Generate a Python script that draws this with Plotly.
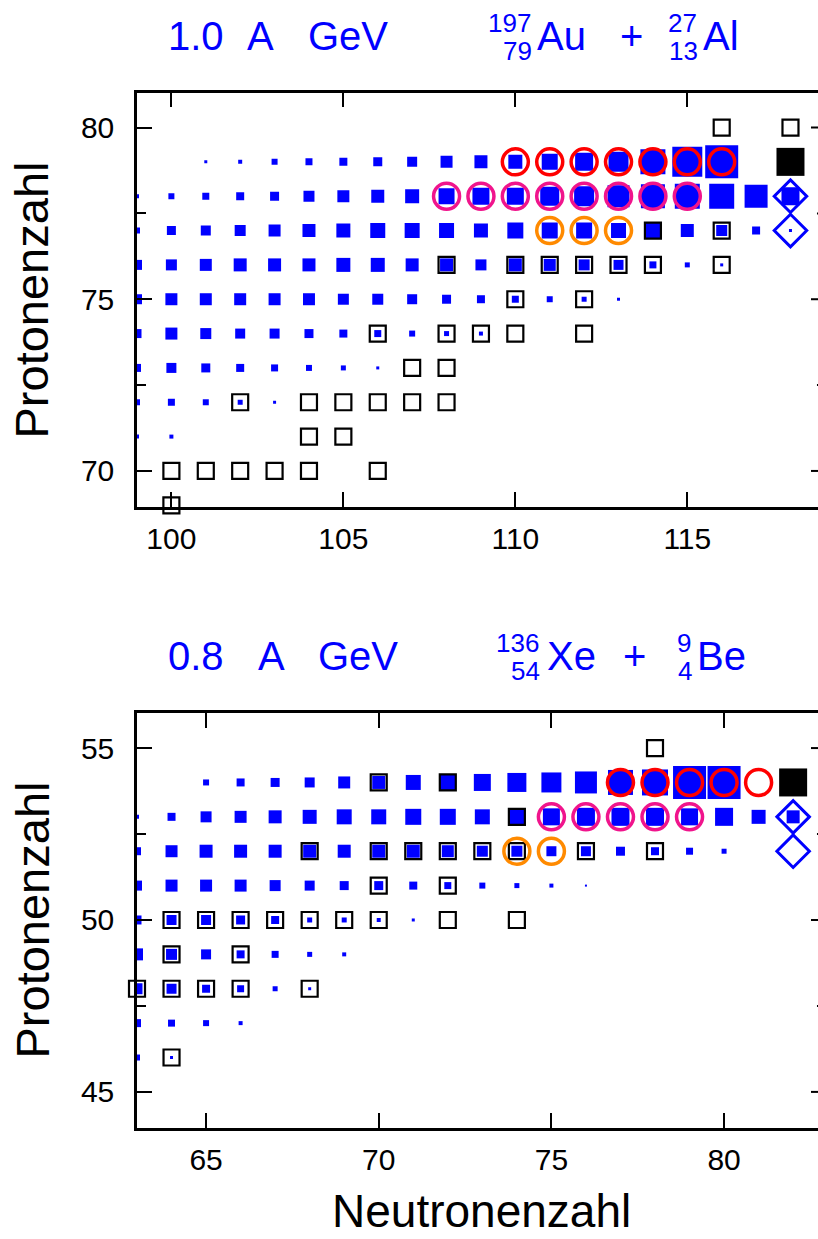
import plotly.graph_objects as go

# ---------------- 197Au + 27Al, 1.0 A GeV ----------------
# blue squares: yield index per nuclide, one list per proton row, starting at AU_ROW_N0
AU_ROW_Z = [79, 78, 77, 76, 75, 74, 73, 72, 71]
AU_ROW_N0 = [101, 99, 99, 99, 99, 99, 99, 99, 99]
AU_ROW_YIELD = [
    [3, 4, 6, 7, 8, 9, 10, 12, 13, 14, 16, 18, 20, 25, 30, 33],
    [4, 6, 7, 8, 9, 11, 12, 13, 14, 16, 17, 17, 19, 20, 22, 24, 25, 25, 23, 18],
    [6, 9, 10, 11, 12, 13, 14, 15, 15, 15, 14, 16, 16, 16, 15, 15, 13, 11, 8, 3],
    [10, 11, 12, 13, 13, 13, 14, 14, 13, 13, 11, 13, 12, 11, 10, 7, 5, 3],
    [10, 12, 12, 12, 12, 12, 11, 11, 10, 9, 8, 7, 6, 5, 3],
    [9, 12, 11, 10, 10, 9, 8, 7, 6, 5, 4],
    [8, 10, 9, 8, 7, 6, 5, 3],
    [6, 7, 6, 5, 3],
    [4, 4],
]
# open black squares
AU_BOX_N = [116, 118, 114, 116, 108, 110, 111, 112, 113, 114, 116, 110, 112,
            106, 108, 109, 110, 112, 107, 108, 102, 104, 105, 106, 107, 108,
            104, 105, 100, 101, 102, 103, 104, 106, 100]
AU_BOX_Z = [80, 80, 77, 77, 76, 76, 76, 76, 76, 76, 76, 75, 75,
            74, 74, 74, 74, 74, 73, 73, 72, 72, 72, 72, 72, 72,
            71, 71, 70, 70, 70, 70, 70, 70, 69]
# circled nuclides
AU_RED_N = [110, 111, 112, 113, 114, 115, 116]
AU_RED_Z = [79] * 7
AU_MAG_N = [108, 109, 110, 111, 112, 113, 114, 115]
AU_MAG_Z = [78] * 8
AU_ORA_N = [111, 112, 113]
AU_ORA_Z = [77] * 3
AU_PROJ_N, AU_PROJ_Z = [118], [79]
AU_DIA_N, AU_DIA_Z = [118, 118], [78, 77]

# ---------------- 136Xe + 9Be, 0.8 A GeV ----------------
XE_ROW_Z = [54, 53, 52, 51, 50, 49, 48, 47, 46]
XE_ROW_N0 = [65, 63, 63, 63, 63, 63, 63, 63, 63]
XE_ROW_YIELD = [
    [6, 8, 9, 10, 12, 13, 15, 16, 17, 19, 20, 22, 25, 26, 33, 33],
    [4, 8, 11, 12, 13, 14, 15, 15, 16, 16, 15, 16, 17, 18, 18, 18, 17, 18, 14, 13],
    [8, 12, 13, 13, 13, 13, 13, 13, 13, 12, 11, 11, 10, 10, 9, 8, 7, 5],
    [10, 12, 12, 12, 11, 10, 9, 9, 8, 7, 6, 5, 4, 2],
    [9, 10, 10, 9, 8, 5, 5, 4, 3],
    [12, 11, 10, 8, 7, 5, 4],
    [11, 10, 8, 7, 5, 3],
    [8, 7, 6, 4],
    [6, 3],
]
XE_BOX_N = [78, 70, 72, 74, 68, 70, 71, 72, 73, 74, 76, 78, 70, 72,
            64, 65, 66, 67, 68, 69, 70, 72, 74, 64, 66, 63, 64, 65, 66, 68, 64]
XE_BOX_Z = [55, 54, 54, 53, 52, 52, 52, 52, 52, 52, 52, 52, 51, 51,
            50, 50, 50, 50, 50, 50, 50, 50, 50, 49, 49, 48, 48, 48, 48, 48, 46]
XE_RED_N = [77, 78, 79, 80, 81]
XE_RED_Z = [54] * 5
XE_MAG_N = [75, 76, 77, 78, 79]
XE_MAG_Z = [53] * 5
XE_ORA_N = [74, 75]
XE_ORA_Z = [52] * 2
XE_PROJ_N, XE_PROJ_Z = [82], [54]
XE_DIA_N, XE_DIA_Z = [82, 82], [53, 52]

BLUE = "#0000FF"
RED = "#FF0000"
MAGENTA = "#F0148C"
ORANGE = "#FF8A00"
PX_PER_YIELD = 1.0

W, H = 818, 1239
L_MARGIN = 137
TOP_DOM = [1 - 507 / H, 1 - 92.5 / H]
BOT_DOM = [1 - 1128 / H, 1 - 713 / H]


def expand(rows_z, rows_n0, rows_w):
    ns, zs, ws = [], [], []
    for z, n0, w in zip(rows_z, rows_n0, rows_w):
        for i, v in enumerate(w):
            ns.append(n0 + i)
            zs.append(z)
            ws.append(v * PX_PER_YIELD)
    return ns, zs, ws


fig = go.Figure()


def add_panel(xa, ya, rows, box, red, mag, ora, proj, dia):
    n, z, w = expand(*rows)
    fig.add_trace(go.Scatter(
        x=n, y=z, mode="markers", xaxis=xa, yaxis=ya, cliponaxis=True,
        marker=dict(symbol="square", size=w, color=BLUE, opacity=1,
                    line=dict(width=0))))
    fig.add_trace(go.Scatter(
        x=box[0], y=box[1], mode="markers", xaxis=xa, yaxis=ya, cliponaxis=False,
        marker=dict(symbol="square", size=16, color="rgba(0,0,0,0)", opacity=1,
                    line=dict(width=2.2, color="black"))))
    for (cn, cz), col in ((red, RED), (mag, MAGENTA), (ora, ORANGE)):
        fig.add_trace(go.Scatter(
            x=cn, y=cz, mode="markers", xaxis=xa, yaxis=ya, cliponaxis=False,
            marker=dict(symbol="circle", size=26, color="rgba(0,0,0,0)", opacity=1,
                        line=dict(width=3.5, color=col))))
    fig.add_trace(go.Scatter(
        x=proj[0], y=proj[1], mode="markers", xaxis=xa, yaxis=ya, cliponaxis=False,
        marker=dict(symbol="square", size=28, color="black", opacity=1,
                    line=dict(width=0))))
    fig.add_trace(go.Scatter(
        x=dia[0], y=dia[1], mode="markers", xaxis=xa, yaxis=ya, cliponaxis=False,
        marker=dict(symbol="diamond", size=25, color="rgba(0,0,0,0)", opacity=1,
                    line=dict(width=3, color=BLUE))))


add_panel("x", "y", (AU_ROW_Z, AU_ROW_N0, AU_ROW_YIELD), (AU_BOX_N, AU_BOX_Z),
          (AU_RED_N, AU_RED_Z), (AU_MAG_N, AU_MAG_Z), (AU_ORA_N, AU_ORA_Z),
          (AU_PROJ_N, AU_PROJ_Z), (AU_DIA_N, AU_DIA_Z))
add_panel("x2", "y2", (XE_ROW_Z, XE_ROW_N0, XE_ROW_YIELD), (XE_BOX_N, XE_BOX_Z),
          (XE_RED_N, XE_RED_Z), (XE_MAG_N, XE_MAG_Z), (XE_ORA_N, XE_ORA_Z),
          (XE_PROJ_N, XE_PROJ_Z), (XE_DIA_N, XE_DIA_Z))

TICK_FONT = dict(family="Liberation Sans, Arial, sans-serif", size=30, color="black")
common_x = dict(showline=True, linewidth=2.5, linecolor="black", mirror="ticks",
                ticks="inside", ticklen=15, tickwidth=2, tickcolor="black",
                showgrid=False, zeroline=False, tickfont=TICK_FONT,
                ticklabelstandoff=3)
common_y = dict(showline=True, linewidth=2.5, linecolor="black", mirror=False,
                ticks="inside", ticklen=15, tickwidth=2, tickcolor="black",
                showgrid=False, zeroline=False, tickfont=TICK_FONT,
                ticklabelstandoff=14)

fig.update_layout(
    width=W, height=H, margin=dict(l=L_MARGIN, r=0, t=0, b=0),
    paper_bgcolor="white", plot_bgcolor="white", showlegend=False,
    xaxis=dict(common_x, domain=[0, 1], range=[99.0, 118.80], anchor="y",
               tickvals=[100, 105, 110, 115]),
    yaxis=dict(common_y, domain=TOP_DOM, range=[68.95, 81.02], anchor="x",
               tickvals=[70, 75, 80],
               minor=dict(tickvals=[72.5, 77.5], ticks="inside", ticklen=9,
                          tickwidth=2, tickcolor="black")),
    xaxis2=dict(common_x, domain=[0, 1], range=[63.0, 82.72], anchor="y2",
                tickvals=[65, 70, 75, 80]),
    yaxis2=dict(common_y, domain=BOT_DOM, range=[43.95, 56.02], anchor="x2",
                tickvals=[45, 50, 55],
                minor=dict(tickvals=[47.5, 52.5], ticks="inside", ticklen=9,
                           tickwidth=2, tickcolor="black")),
)

# tick marks on the right-hand frame edge
shapes = []
for yref, major, minor in (("y", [70, 75, 80], [72.5, 77.5]),
                           ("y2", [45, 50, 55], [47.5, 52.5])):
    for v in major:
        shapes.append(dict(type="line", xref="paper", yref=yref, x0=0.9897, x1=1.0,
                           y0=v, y1=v, line=dict(color="black", width=2)))
    for v in minor:
        shapes.append(dict(type="line", xref="paper", yref=yref, x0=0.9985, x1=1.0,
                           y0=v, y1=v, line=dict(color="black", width=2)))
fig.update_layout(shapes=shapes)


def px(xp):
    return (xp - L_MARGIN) / (W - L_MARGIN)


def py(yp):
    return 1 - yp / H


TITLE_FONT = "Liberation Sans, Arial, sans-serif"
ann = []


def text(s, x, y, size, anchor="left", color=BLUE, family=TITLE_FONT, angle=0):
    ann.append(dict(text=s, x=px(x), y=py(y), xref="paper", yref="paper",
                    xanchor=anchor, yanchor="middle", showarrow=False,
                    textangle=angle, borderpad=0,
                    font=dict(family=family, size=size, color=color)))


# panel headers: energy, then projectile + target with mass/charge prescripts
HEADERS = [
    (("1.0", "A", "GeV"), ("197", "79", "Au"), ("27", "13", "Al"), 36,
     (167, 246, 307), (532, 536), 631, (698, 702)),
    (("0.8", "A", "GeV"), ("136", "54", "Xe"), ("9", "4", "Be"), 656,
     (167, 257, 317), (540, 546), 634, (692, 696)),
]
for energy, proj, targ, cy, ex, pxs, xplus, txs in HEADERS:
    for s, x in zip(energy, ex):
        text(s, x, cy, 40)
    for (sup, sub, el), (xr, xe) in ((proj, pxs), (targ, txs)):
        text(sup, xr, cy - 13, 26, anchor="right")
        text(sub, xr + 1, cy + 15, 26, anchor="right")
        text(el, xe, cy, 40)
    text("+", xplus, cy, 40, anchor="center")

AX_FONT = "Liberation Sans, Arial, sans-serif"
text("Protonenzahl", 31.5, 300, 47, anchor="center", color="black", family=AX_FONT, angle=-90)
text("Protonenzahl", 31.5, 920, 47, anchor="center", color="black", family=AX_FONT, angle=-90)
text("Neutronenzahl", 481, 1211, 46, anchor="center", color="black", family=AX_FONT)
fig.update_layout(annotations=ann)

fig.write_html("out.html")
